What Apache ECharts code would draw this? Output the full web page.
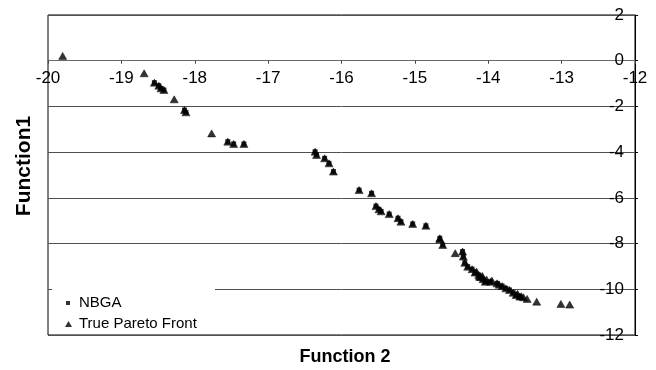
<!DOCTYPE html>
<html>
<head>
<meta charset="utf-8">
<script src="https://cdn.jsdelivr.net/npm/echarts@6/dist/echarts.min.js"></script>
<style>html,body{margin:0;padding:0;background:#fff;}#c{width:656px;height:370px;}</style>
</head>
<body>
<div id="c"></div>
<script>
// True Pareto Front (Function 2, Function1)
var frontF2 = [-19.80, -18.69, -18.55, -18.49, -18.46, -18.42, -18.28, -18.14, -18.12, -17.77, -17.55, -17.47, -17.33,
  -16.36, -16.34, -16.23, -16.17, -16.11, -15.76, -15.59, -15.53, -15.49, -15.46, -15.35, -15.23, -15.19, -15.03, -14.85,
  -14.66, -14.66, -14.62, -14.45, -14.35, -14.34, -14.32, -14.28, -14.22, -14.18, -14.16, -14.13, -14.12, -14.10, -14.08,
  -14.07, -14.04, -14.02, -13.97, -13.95, -13.88, -13.85, -13.81, -13.76, -13.71, -13.66, -13.62, -13.60, -13.57, -13.55,
  -13.52, -13.47, -13.34, -13.01, -12.89];
var frontF1 = [0.21, -0.55, -0.96, -1.09, -1.21, -1.28, -1.69, -2.16, -2.26, -3.18, -3.54, -3.64, -3.64,
  -3.98, -4.12, -4.27, -4.49, -4.85, -5.66, -5.80, -6.36, -6.50, -6.59, -6.71, -6.89, -7.04, -7.14, -7.22,
  -7.77, -7.81, -8.06, -8.42, -8.35, -8.57, -8.84, -9.01, -9.12, -9.27, -9.22, -9.37, -9.45, -9.47, -9.42,
  -9.56, -9.67, -9.58, -9.67, -9.62, -9.74, -9.80, -9.86, -9.96, -10.03, -10.15, -10.25, -10.20, -10.32, -10.30,
  -10.35, -10.42, -10.54, -10.64, -10.67];
// NBGA solutions (mostly hidden under the front markers)
var nbgaF2 = [-18.55, -18.49, -18.46, -18.42, -18.14, -18.12, -17.55, -17.47, -17.33,
  -16.36, -16.34, -16.23, -16.17, -16.11, -15.76, -15.59, -15.53, -15.49, -15.46, -15.35, -15.23, -15.19, -15.03, -14.85,
  -14.66, -14.62, -14.35, -14.34, -14.32, -14.28, -14.22, -14.18, -14.13, -14.10, -14.07, -14.04, -13.97, -13.88,
  -13.81, -13.76, -13.71, -13.66, -13.62, -13.57];
var nbgaF1 = [-0.96, -1.09, -1.21, -1.28, -2.16, -2.26, -3.54, -3.64, -3.64,
  -3.98, -4.12, -4.27, -4.49, -4.85, -5.66, -5.80, -6.36, -6.50, -6.59, -6.71, -6.89, -7.04, -7.14, -7.22,
  -7.77, -8.06, -8.35, -8.57, -8.84, -9.01, -9.12, -9.27, -9.37, -9.47, -9.56, -9.67, -9.67, -9.74,
  -9.86, -9.96, -10.03, -10.15, -10.25, -10.32];
var seriesNames = ['NBGA', 'True Pareto Front'];
var xTitle = 'Function 2';
var yTitle = 'Function1';

function pairs(a, b) { return a.map(function (v, i) { return [v, b[i]]; }); }

var FONT = '"Liberation Sans", Arial, Helvetica, sans-serif';
var GRID_TOP = 15, GRID_H = 320, Y_MIN = -12, Y_MAX = 2;
// x axis sits on Function1 = 0 (placed from the top of the plot by the y scale ratio)
var xAxisOffset = -GRID_H * (Y_MAX - 0) / (Y_MAX - Y_MIN);

var chart = echarts.init(document.getElementById('c'), null, { renderer: 'canvas' });
chart.setOption({
  animation: false,
  backgroundColor: '#fff',
  grid: { left: 48, right: 21, top: GRID_TOP, height: GRID_H, show: true, borderColor: '#000', borderWidth: 1, outerBoundsMode: 'none', containLabel: false },
  xAxis: {
    type: 'value', min: -20, max: -12, interval: 1, position: 'top', offset: xAxisOffset,
    axisLine: { show: true, onZero: false, lineStyle: { color: '#6a6a6a', width: 1 } },
    axisTick: { show: true, length: 3, inside: true, lineStyle: { color: '#444' } },
    axisLabel: { inside: true, margin: 9, color: '#000', fontSize: 17, fontFamily: FONT, showMinLabel: true, showMaxLabel: true },
    splitLine: { show: false }
  },
  yAxis: {
    type: 'value', position: 'right', min: Y_MIN, max: Y_MAX, interval: 2,
    axisLine: { show: true, onZero: false, lineStyle: { color: '#000', width: 1 } },
    axisTick: { show: true, length: 3, inside: false, lineStyle: { color: '#000' } },
    axisLabel: { inside: true, margin: 11, color: '#000', fontSize: 17, fontFamily: FONT, showMinLabel: true, showMaxLabel: true },
    splitLine: { show: true, lineStyle: { color: '#505050', width: 1 } }
  },
  legend: [
    { data: [{ name: seriesNames[0], icon: 'rect' }], left: 66, top: 295, padding: 0, itemWidth: 4, itemHeight: 4, z: 6,
      textStyle: { color: '#000', fontSize: 15, fontFamily: FONT, lineHeight: 16, padding: [0, 0, 0, 4] } },
    { data: [{ name: seriesNames[1], icon: 'triangle' }], left: 65, top: 316, padding: 0, itemWidth: 7, itemHeight: 6, z: 6,
      itemStyle: { borderWidth: 0 },
      textStyle: { color: '#000', fontSize: 15, fontFamily: FONT, lineHeight: 16, padding: [0, 0, 0, 2] } }
  ],
  graphic: [
    { type: 'rect', z: 1, silent: true, shape: { x: 52, y: 289, width: 163, height: 45 }, style: { fill: '#fff' } },
    { type: 'text', x: 24, y: 166, rotation: Math.PI / 2, silent: true,
      style: { text: yTitle, font: 'bold 21px ' + FONT, fill: '#000', textAlign: 'center', textVerticalAlign: 'middle' } },
    { type: 'text', x: 345, y: 357, silent: true,
      style: { text: xTitle, font: 'bold 18px ' + FONT, fill: '#000', textAlign: 'center', textVerticalAlign: 'middle' } }
  ],
  series: [
    { name: seriesNames[0], type: 'scatter', symbol: 'rect', symbolSize: 5, itemStyle: { color: '#000' }, data: pairs(nbgaF2, nbgaF1), z: 2 },
    { name: seriesNames[1], type: 'scatter', symbol: 'triangle', symbolSize: [8, 7], itemStyle: { color: '#000', borderColor: '#000', borderWidth: 0.6 }, data: pairs(frontF2, frontF1), z: 3 }
  ]
});
</script>
</body>
</html>
